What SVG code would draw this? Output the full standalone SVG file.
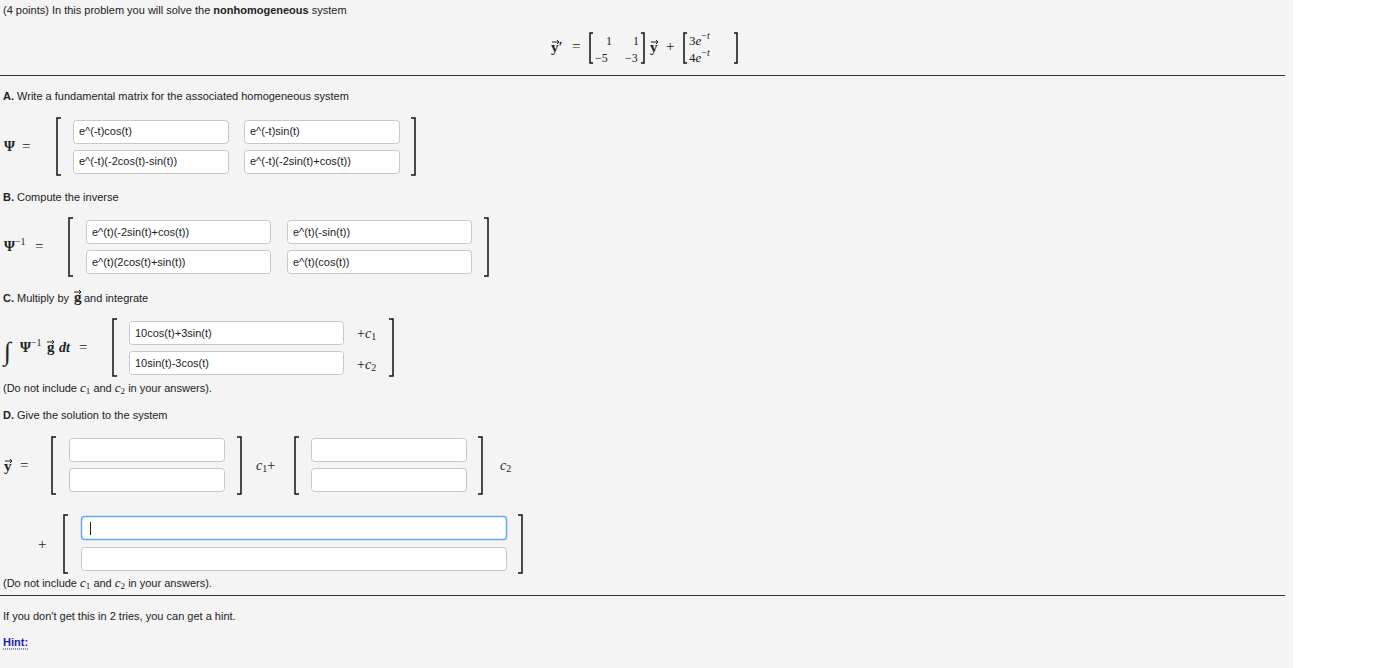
<svg xmlns="http://www.w3.org/2000/svg" width="1388" height="668" viewBox="0 0 1388 668">
<style>
text{font-family:"Liberation Sans",Arial,sans-serif;font-size:11px;fill:#222}
.m{font-family:"Liberation Serif","Times New Roman",serif}
.b{font-weight:bold}
.in{fill:#fff;stroke:#c8c8c8;stroke-width:1}
.br{fill:none;stroke:#111;stroke-width:1.5}
.hr{stroke:#333;stroke-width:1}
.ar{fill:none;stroke:#222;stroke-width:1}
</style>
<defs>
<path id="vec" class="ar" d="M0,0h7M5,-2l2,2l-2,2"/>
</defs>
<rect width="1388" height="668" fill="#fff"/>
<rect width="1293" height="668" fill="#f4f4f4"/>
<text x="3" y="14">(4 points) In this problem you will solve the <tspan class="b">nonhomogeneous</tspan> system</text>
<g>
<text class="m b" x="551" y="52" style="font-size:15px">y′</text>
<use href="#vec" x="552" y="42"/>
<text class="m" x="572" y="51" style="font-size:15px">=</text>
<path class="br" d="M593,33h-3v30h3 M641,33h3v30h-3"/>
<text class="m" x="606" y="45" style="font-size:12px">1</text><text class="m" x="633" y="45" style="font-size:12px">1</text>
<text class="m" x="595" y="62" style="font-size:12px">−5</text><text class="m" x="625" y="62" style="font-size:12px">−3</text>
<text class="m b" x="650" y="52" style="font-size:15px">y</text>
<use href="#vec" x="651" y="42"/>
<text class="m" x="666" y="51" style="font-size:15px">+</text>
<path class="br" d="M687,33h-3v30h3 M734,33h3v30h-3"/>
<text class="m" x="689" y="45" style="font-size:13px">3<tspan style="font-style:italic">e</tspan><tspan dy="-6" style="font-size:10px">−<tspan style="font-style:italic">t</tspan></tspan></text>
<text class="m" x="689" y="62" style="font-size:13px">4<tspan style="font-style:italic">e</tspan><tspan dy="-6" style="font-size:10px">−<tspan style="font-style:italic">t</tspan></tspan></text>
</g>
<line class="hr" x1="0" y1="75.5" x2="1285" y2="75.5"/>
<text x="3" y="100"><tspan class="b">A.</tspan> Write a fundamental matrix for the associated homogeneous system</text>
<text class="m b" x="4" y="151" style="font-size:14px">Ψ</text><text class="m" x="22" y="151" style="font-size:15px">=</text>
<path class="br" d="M61,118h-4v57h4 M411,118h4v57h-4"/>
<rect class="in" x="73.5" y="120.5" width="155" height="23" rx="3"/><text x="79" y="135">e^(-t)cos(t)</text>
<rect class="in" x="244.5" y="120.5" width="155" height="23" rx="3"/><text x="250" y="135">e^(-t)sin(t)</text>
<rect class="in" x="73.5" y="150.5" width="155" height="23" rx="3"/><text x="79" y="165">e^(-t)(-2cos(t)-sin(t))</text>
<rect class="in" x="244.5" y="150.5" width="155" height="23" rx="3"/><text x="250" y="165">e^(-t)(-2sin(t)+cos(t))</text>
<text x="3" y="201"><tspan class="b">B.</tspan> Compute the inverse</text>
<text class="m b" x="4" y="251" style="font-size:14px">Ψ<tspan dy="-6" style="font-size:10px;font-weight:normal">−1</tspan></text><text class="m" x="35" y="251" style="font-size:15px">=</text>
<path class="br" d="M73,218h-4v58h4 M484,218h4v58h-4"/>
<rect class="in" x="86.5" y="220.5" width="184" height="23" rx="3"/><text x="92" y="236">e^(t)(-2sin(t)+cos(t))</text>
<rect class="in" x="287.5" y="220.5" width="184" height="23" rx="3"/><text x="293" y="236">e^(t)(-sin(t))</text>
<rect class="in" x="86.5" y="250.5" width="184" height="23" rx="3"/><text x="92" y="266">e^(t)(2cos(t)+sin(t))</text>
<rect class="in" x="287.5" y="250.5" width="184" height="23" rx="3"/><text x="293" y="266">e^(t)(cos(t))</text>
<text x="3" y="302"><tspan class="b">C.</tspan> Multiply by</text>
<text class="m b" x="74" y="302" style="font-size:15px">g</text>
<use href="#vec" x="74" y="292"/>
<text x="84" y="302">and integrate</text>
<text class="m" x="4" y="360" style="font-size:26px">∫</text>
<text class="m b" x="20" y="352" style="font-size:14px">Ψ<tspan dy="-6" style="font-size:10px;font-weight:normal">−1</tspan></text>
<text class="m b" x="47" y="352" style="font-size:15px">g</text>
<use href="#vec" x="47" y="342"/>
<text class="m b" x="59" y="352" style="font-size:14px;font-style:italic">dt</text>
<text class="m" x="79" y="352" style="font-size:15px">=</text>
<path class="br" d="M117,319h-4v57h4 M389,319h4v57h-4"/>
<rect class="in" x="129.5" y="321.5" width="214" height="23" rx="3"/><text x="135" y="337">10cos(t)+3sin(t)</text>
<rect class="in" x="129.5" y="351.5" width="214" height="23" rx="3"/><text x="135" y="367">10sin(t)-3cos(t)</text>
<text class="m" x="357" y="338" style="font-size:14px">+<tspan style="font-style:italic">c</tspan><tspan style="font-size:10px" dy="2">1</tspan></text>
<text class="m" x="357" y="369" style="font-size:14px">+<tspan style="font-style:italic">c</tspan><tspan style="font-size:10px" dy="2">2</tspan></text>
<text x="3" y="392">(Do not include <tspan class="m" style="font-style:italic;font-size:13px">c</tspan><tspan class="m" style="font-size:9px" dy="2">1</tspan><tspan dy="-2"> and </tspan><tspan class="m" style="font-style:italic;font-size:13px">c</tspan><tspan class="m" style="font-size:9px" dy="2">2</tspan><tspan dy="-2"> in your answers).</tspan></text>
<text x="3" y="419"><tspan class="b">D.</tspan> Give the solution to the system</text>
<text class="m b" x="4" y="471" style="font-size:15px">y</text>
<use href="#vec" x="5" y="461"/>
<text class="m" x="20" y="470" style="font-size:15px">=</text>
<path class="br" d="M56,437h-4v57h4 M237,437h4v57h-4"/>
<rect class="in" x="69.5" y="438.5" width="155" height="23" rx="3"/>
<rect class="in" x="69.5" y="468.5" width="155" height="23" rx="3"/>
<text class="m" x="256" y="470" style="font-size:14px"><tspan style="font-style:italic">c</tspan><tspan style="font-size:10px" dy="2">1</tspan><tspan dy="-2">+</tspan></text>
<path class="br" d="M299,437h-4v57h4 M478,437h4v57h-4"/>
<rect class="in" x="311.5" y="438.5" width="155" height="23" rx="3"/>
<rect class="in" x="311.5" y="468.5" width="155" height="23" rx="3"/>
<text class="m" x="500" y="470" style="font-size:14px"><tspan style="font-style:italic">c</tspan><tspan style="font-size:10px" dy="2">2</tspan></text>
<text class="m" x="38" y="549" style="font-size:15px">+</text>
<path class="br" d="M68,515h-4v58h4 M518,515h4v58h-4"/>
<rect x="81.5" y="516.5" width="425" height="23" rx="3" fill="#fff" stroke="#6aa8e8" stroke-width="1.5"/>
<line x1="90.5" y1="522" x2="90.5" y2="535" stroke="#222"/>
<rect class="in" x="81.5" y="547.5" width="425" height="23" rx="3"/>
<text x="3" y="587">(Do not include <tspan class="m" style="font-style:italic;font-size:13px">c</tspan><tspan class="m" style="font-size:9px" dy="2">1</tspan><tspan dy="-2"> and </tspan><tspan class="m" style="font-style:italic;font-size:13px">c</tspan><tspan class="m" style="font-size:9px" dy="2">2</tspan><tspan dy="-2"> in your answers).</tspan></text>
<line class="hr" x1="0" y1="595.5" x2="1285" y2="595.5"/>
<text x="3" y="620">If you don't get this in 2 tries, you can get a hint.</text>
<text x="3" y="646" class="b" style="fill:#1a1aa6">Hint:</text>
<line x1="3" y1="649" x2="29" y2="649" stroke="#1a1aa6" stroke-dasharray="1,1"/>
</svg>
